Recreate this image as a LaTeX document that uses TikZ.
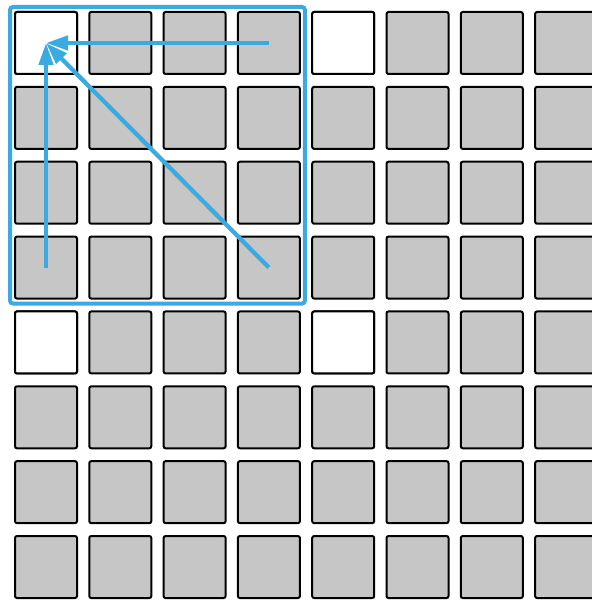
\documentclass[tikz,border=0pt]{standalone}
\usepackage{tikz}
\usetikzlibrary{positioning, arrows.meta, calc, fit}
\definecolor{cellgray}{HTML}{C6C6C6}
\definecolor{skyblue}{HTML}{3AAAE1}
\tikzset{
  cell/.style={rectangle, rounded corners=2pt, minimum size=62pt, inner sep=0pt, draw=black, line width=2pt, fill=cellgray},
  blank/.style={cell, fill=white},
  frame/.style={rectangle, rounded corners=3pt, draw=skyblue, line width=4pt, inner sep=4pt},
  arrow/.style={line width=4.3pt, draw=skyblue, -{Triangle[length=22pt, width=14pt]}}
}
\begin{document}
\begin{tikzpicture}[x=1pt, y=-1pt]
        \useasboundingbox (0,0) rectangle (591,601);

        % Rejilla de celdas 8x8
        \foreach \i in {0,...,7} {
          \foreach \j in {0,...,7} {
            \node (c-\i-\j) [cell] at ({46+74.3*\i}, {43+74.86*\j}) {};
          }
        }
        % Celdas blancas
        \foreach \i/\j in {0/0, 4/0, 0/4, 4/4} {
          \node [blank] at (c-\i-\j) {};
        }

        % Marco del bloque 4x4
        \node (blk) [frame, fit=(c-0-0)(c-3-3)] {};

        % Flechas hacia la celda de referencia
        \draw [arrow] (c-3-0.center) -- (c-0-0.center);
        \draw [arrow] (c-0-3.center) -- (c-0-0.center);
        \draw [arrow] (c-3-3.center) -- (c-0-0.center);

\end{tikzpicture}
\end{document}
